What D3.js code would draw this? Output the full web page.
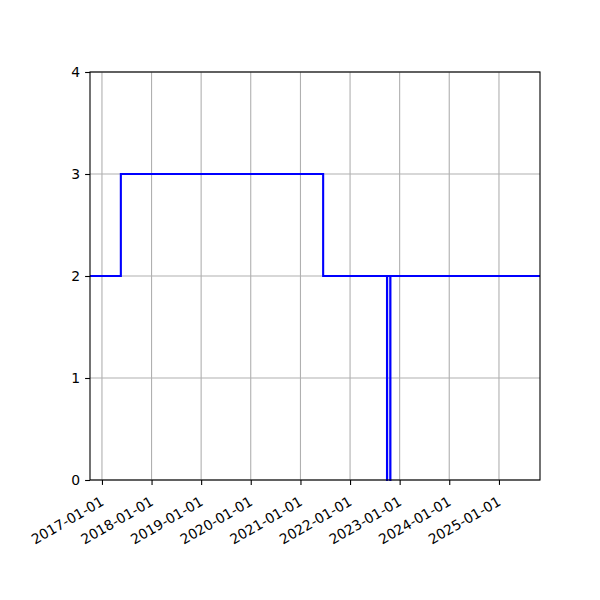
<!DOCTYPE html>
<html>
<head>
<meta charset="utf-8">
<script src="https://cdn.jsdelivr.net/npm/d3@7"></script>
<style>
  body { margin: 0; background: #fff; }
  text { font-family: "DejaVu Sans", sans-serif; }
</style>
</head>
<body>
<script>
// step series (value holds until next date)
const dates = ["2016-10-05", "2017-05-20", "2021-06-17", "2022-09-30", "2022-10-01", "2022-10-24", "2022-10-25", "2025-10-30"]
const values = [2, 3, 2, 0, 2, 0, 2, 2]
const xStart = "2016-10-05"
const xEnd = "2025-10-30"
const yTicks = [0, 1, 2, 3, 4]
const xTickYears = [2017, 2018, 2019, 2020, 2021, 2022, 2023, 2024, 2025]

const parse = d3.utcParse("%Y-%m-%d")
const data = dates.map((d, i) => ({date: parse(d), value: values[i]}))

const W = 600, H = 600
const mLeft = 90, mRight = 540, mTop = 72, mBottom = 480
const fontPx = 13.9

const svg = d3.select("body").append("svg")
  .attr("width", W)
  .attr("height", H)

const x = d3.scaleUtc()
  .domain([parse(xStart), parse(xEnd)])
  .range([mLeft, mRight])

const y = d3.scaleLinear()
  .domain([0, 4])
  .range([mBottom, mTop])

const xTicks = xTickYears.map(yr => new Date(Date.UTC(yr, 0, 1)))

// grid
svg.append("g")
  .selectAll("line")
  .data(xTicks)
  .join("line")
  .attr("x1", d => x(d)).attr("x2", d => x(d))
  .attr("y1", mTop).attr("y2", mBottom)
  .attr("stroke", "#b0b0b0")
  .attr("stroke-width", 1.1)

svg.append("g")
  .selectAll("line")
  .data(yTicks)
  .join("line")
  .attr("x1", mLeft).attr("x2", mRight)
  .attr("y1", d => y(d)).attr("y2", d => y(d))
  .attr("stroke", "#b0b0b0")
  .attr("stroke-width", 1.1)

// the line
const line = d3.line()
  .x(d => x(d.date))
  .y(d => y(d.value))
  .curve(d3.curveStepAfter)

svg.append("defs").append("clipPath").attr("id", "clip")
  .append("rect")
  .attr("x", mLeft).attr("y", mTop - 2)
  .attr("width", mRight - mLeft).attr("height", mBottom - mTop + 4)

svg.append("path")
  .datum(data)
  .attr("d", line)
  .attr("fill", "none")
  .attr("stroke", "#0000ff")
  .attr("stroke-width", 2.1)
  .attr("clip-path", "url(#clip)")

// axes
const xAxis = svg.append("g")
  .attr("transform", `translate(0,${mBottom})`)
  .call(d3.axisBottom(x)
    .tickValues(xTicks)
    .tickFormat(d3.utcFormat("%Y-%m-%d"))
    .tickSize(4.9))
xAxis.select(".domain").remove()
xAxis.selectAll(".tick line").attr("stroke", "#000").attr("stroke-width", 1.1)
xAxis.selectAll(".tick text")
  .attr("font-size", fontPx)
  .attr("fill", "#000")
  .attr("text-anchor", "end")
  .attr("y", 0)
  .attr("dy", "0.78em")
  .attr("transform", "translate(-3,15) rotate(-30)")

const yAxis = svg.append("g")
  .attr("transform", `translate(${mLeft},0)`)
  .call(d3.axisLeft(y)
    .tickValues(yTicks)
    .tickFormat(d3.format("d"))
    .tickSize(4.9)
    .tickPadding(4.9))
yAxis.select(".domain").remove()
yAxis.selectAll(".tick line").attr("stroke", "#000").attr("stroke-width", 1.1)
yAxis.selectAll(".tick text").attr("font-size", fontPx).attr("fill", "#000")

// spines
svg.append("rect")
  .attr("x", mLeft).attr("y", mTop)
  .attr("width", mRight - mLeft).attr("height", mBottom - mTop)
  .attr("fill", "none")
  .attr("stroke", "#000")
  .attr("stroke-width", 1.1)
</script>
</body>
</html>
